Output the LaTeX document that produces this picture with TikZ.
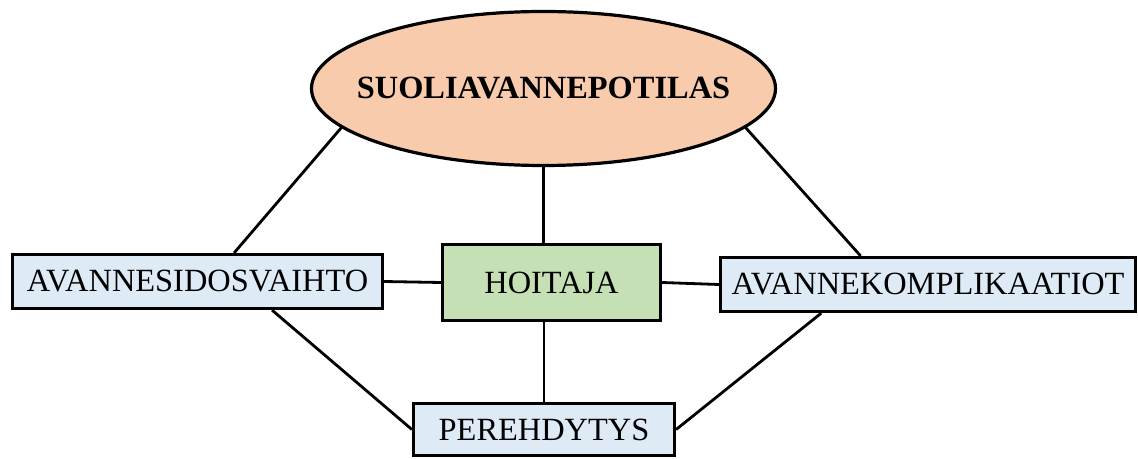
\documentclass[tikz,border=0pt]{standalone}
\usepackage{fontspec}
\setmainfont{Liberation Serif}
\usepackage{tikz}
\usetikzlibrary{positioning,shapes.geometric}

\definecolor{peach}{HTML}{F8CBAD}
\definecolor{paleblue}{HTML}{DEEBF7}
\definecolor{palegreen}{HTML}{C5E0B4}

\begin{document}
\begin{tikzpicture}[x=0.5pt, y=-0.5pt,
  box/.style={draw, line width=1.6pt, fill=paleblue, minimum height=27pt, inner sep=0pt, font=\fontsize{16.2}{19}\selectfont},
  link/.style={line width=1.4pt}]

\useasboundingbox (0,0) rectangle (1138,459);

\node[ellipse, draw, line width=1.6pt, fill=peach, inner sep=0pt, minimum width=232pt, minimum height=77pt, font=\fontsize{16.2}{19}\selectfont\bfseries] (pat) at (543.5,88.5) {\makebox[0pt]{SUOLIAVANNEPOTILAS}};

\node[box, minimum width=185pt] (vaihto) at (197.5,281.5) {AVANNESIDOSVAIHTO};
\node[box, fill=palegreen, minimum width=109pt, minimum height=38pt] (hoitaja) at (551.5,282.5) {HOITAJA};
\node[box, minimum width=207.5pt] (kompl) at (928,284.5) {AVANNEKOMPLIKAATIOT};
\node[box, minimum width=130.5pt, minimum height=26pt] (pereh) at (544,429.5) {PEREHDYTYS};

\draw[link] (pat.191.7) -- (vaihto.38.8);
\draw[link] (pat.349) -- (kompl.157.85);
\draw[link] (pat.south) -- (pat.south |- hoitaja.north);
\draw[link] (vaihto.east) -- (hoitaja.west);
\draw[link] (hoitaja.east) -- (kompl.west);
\draw[link] (pereh.north |- hoitaja.south) -- (pereh.north);
\draw[link] (vaihto.-21.7) -- (pereh.west);
\draw[link] (kompl.195.05) -- (pereh.east);

\end{tikzpicture}
\end{document}
